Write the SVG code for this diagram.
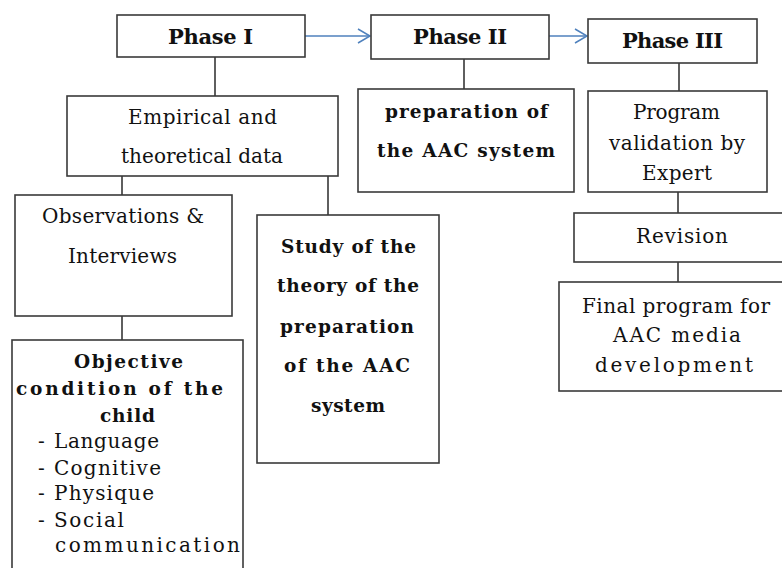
<svg xmlns="http://www.w3.org/2000/svg" width="782" height="568" viewBox="0 0 782 568">
<style>
.box{fill:#fff;stroke:#3a3a3a;stroke-width:1.6}
.ln{stroke:#2a2a2a;stroke-width:1.5;fill:none}
.arr{stroke:#4f81bd;stroke-width:1.5;fill:none}
.n{font-family:'DejaVu Serif',serif;font-size:20px;fill:#111}
.b{font-family:'DejaVu Serif',serif;font-size:18.5px;font-weight:bold;fill:#111}
.h{font-family:'DejaVu Serif',serif;font-size:21px;font-weight:bold;fill:#111}
</style>
<defs>
<marker id="ah" markerWidth="16" markerHeight="16" refX="13" refY="8" orient="auto" markerUnits="userSpaceOnUse">
<path d="M1,1 L13,8 L1,15" fill="none" stroke="#4f81bd" stroke-width="1.5"/>
</marker>
</defs>
<rect width="782" height="568" fill="#fff"/>
<g id="connectors">
<line class="arr" x1="305" y1="36" x2="370" y2="36" marker-end="url(#ah)"/>
<line class="arr" x1="549" y1="36" x2="587" y2="36" marker-end="url(#ah)"/>
<line class="ln" x1="215" y1="57" x2="215" y2="96"/>
<line class="ln" x1="464" y1="59" x2="464" y2="89"/>
<line class="ln" x1="679" y1="63" x2="679" y2="91"/>
<line class="ln" x1="122" y1="176" x2="122" y2="195"/>
<line class="ln" x1="328" y1="176" x2="328" y2="215"/>
<line class="ln" x1="122" y1="316" x2="122" y2="340"/>
<line class="ln" x1="678" y1="192" x2="678" y2="213"/>
<line class="ln" x1="678" y1="262" x2="678" y2="282"/>
</g>
<g id="phase1">
<rect class="box" x="117" y="15" width="188" height="42"/>
<text class="h" x="168" y="44" textLength="85" lengthAdjust="spacing">Phase I</text>
</g>
<g id="phase2">
<rect class="box" x="371" y="15" width="178" height="44"/>
<text class="h" x="413" y="44" textLength="94" lengthAdjust="spacing">Phase II</text>
</g>
<g id="phase3">
<rect class="box" x="588" y="19" width="169" height="44"/>
<text class="h" x="622" y="48" textLength="101" lengthAdjust="spacing">Phase III</text>
</g>
<g id="empirical">
<rect class="box" x="67" y="96" width="271" height="80"/>
<text class="n" x="128" y="124" textLength="149" lengthAdjust="spacing">Empirical and</text>
<text class="n" x="121" y="163" textLength="162" lengthAdjust="spacing">theoretical data</text>
</g>
<g id="preparation">
<rect class="box" x="358" y="89" width="216" height="103"/>
<text class="b" x="385" y="118" textLength="163" lengthAdjust="spacing">preparation of</text>
<text class="b" x="377" y="157" textLength="178" lengthAdjust="spacing">the AAC system</text>
</g>
<g id="validation">
<rect class="box" x="588" y="91" width="179" height="101"/>
<text class="n" x="633" y="119" textLength="87" lengthAdjust="spacing">Program</text>
<text class="n" x="609" y="150" textLength="136" lengthAdjust="spacing">validation by</text>
<text class="n" x="642" y="180" textLength="70" lengthAdjust="spacing">Expert</text>
</g>
<g id="revision">
<rect class="box" x="574" y="213" width="220" height="49"/>
<text class="n" x="636" y="243" textLength="92" lengthAdjust="spacing">Revision</text>
</g>
<g id="final">
<rect class="box" x="559" y="282" width="235" height="109"/>
<text class="n" x="582" y="313" textLength="188" lengthAdjust="spacing">Final program for</text>
<text class="n" x="613" y="342" textLength="128" lengthAdjust="spacing">AAC media</text>
<text class="n" x="595" y="372" textLength="158" lengthAdjust="spacing">development</text>
</g>
<g id="observations">
<rect class="box" x="15" y="195" width="217" height="121"/>
<text class="n" x="42" y="223" textLength="162" lengthAdjust="spacing">Observations &amp;</text>
<text class="n" x="68" y="263" textLength="109" lengthAdjust="spacing">Interviews</text>
</g>
<g id="study">
<rect class="box" x="257" y="215" width="182" height="248"/>
<text class="b" x="281" y="253" textLength="135" lengthAdjust="spacing">Study of the</text>
<text class="b" x="277" y="292" textLength="142" lengthAdjust="spacing">theory of the</text>
<text class="b" x="280" y="333" textLength="134" lengthAdjust="spacing">preparation</text>
<text class="b" x="284" y="372" textLength="126" lengthAdjust="spacing">of the AAC</text>
<text class="b" x="311" y="412" textLength="74" lengthAdjust="spacing">system</text>
</g>
<g id="objective">
<rect class="box" x="12" y="340" width="231" height="250"/>
<text class="b" x="74" y="368" textLength="109" lengthAdjust="spacing">Objective</text>
<text class="b" x="16" y="395" textLength="207" lengthAdjust="spacing">condition of the</text>
<text class="b" x="100" y="422" textLength="55" lengthAdjust="spacing">child</text>
<text class="n" x="38" y="448">-</text>
<text class="n" x="54" y="448" textLength="105" lengthAdjust="spacing">Language</text>
<text class="n" x="38" y="475">-</text>
<text class="n" x="54" y="475" textLength="107" lengthAdjust="spacing">Cognitive</text>
<text class="n" x="38" y="500">-</text>
<text class="n" x="54" y="500" textLength="100" lengthAdjust="spacing">Physique</text>
<text class="n" x="38" y="527">-</text>
<text class="n" x="54" y="527" textLength="70" lengthAdjust="spacing">Social</text>
<text class="n" x="55" y="552" textLength="185" lengthAdjust="spacing">communication</text>
</g>
</svg>
